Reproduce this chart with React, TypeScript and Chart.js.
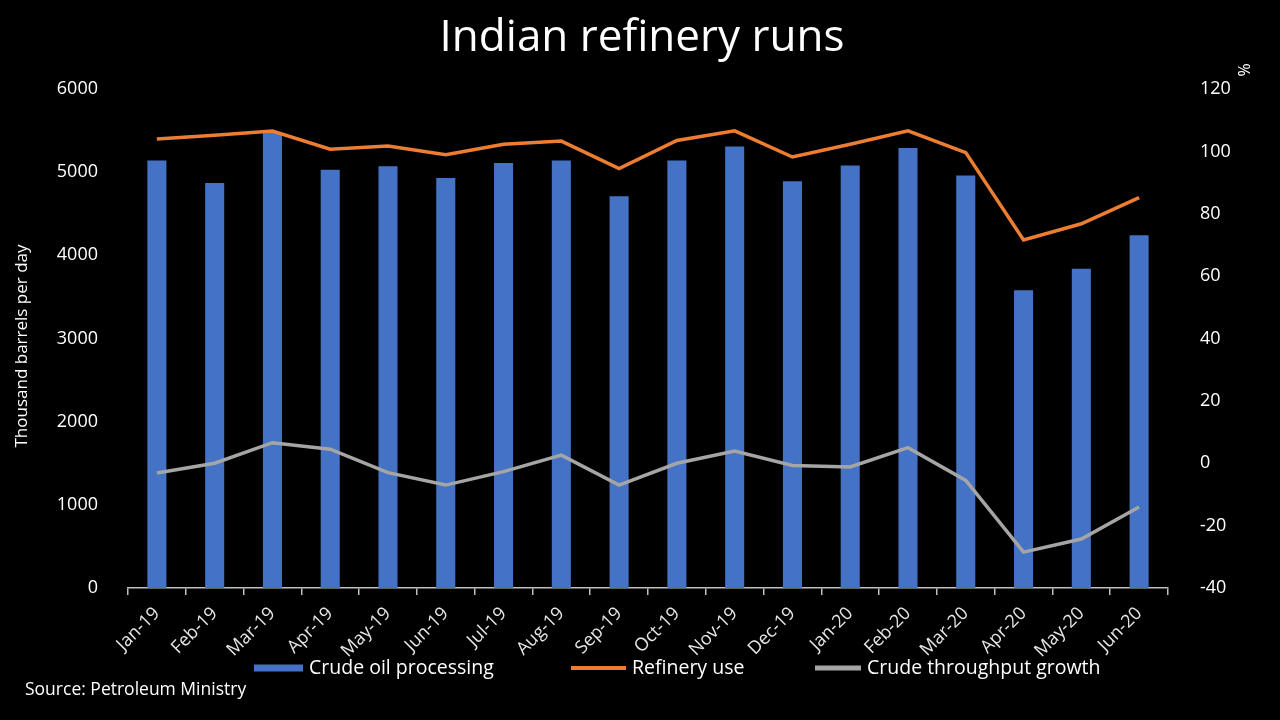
import React, { useEffect, useRef } from "react";
import { Chart, registerables } from "chart.js";

Chart.register(...registerables);

const categories = [
  "Jan-19", "Feb-19", "Mar-19", "Apr-19", "May-19", "Jun-19", "Jul-19", "Aug-19", "Sep-19",
  "Oct-19", "Nov-19", "Dec-19", "Jan-20", "Feb-20", "Mar-20", "Apr-20", "May-20", "Jun-20",
];
const crudeProcessing = [
  5140, 4870, 5470, 5030, 5070, 4930, 5110, 5140, 4710,
  5140, 5310, 4890, 5080, 5290, 4960, 3580, 3840, 4240,
];
const refineryUse = [
  104, 105.2, 106.5, 100.7, 101.7, 98.9, 102.3, 103.3, 94.5,
  103.5, 106.6, 98.2, 102.3, 106.6, 99.6, 71.6, 76.8, 85.2,
];
const throughputGrowth = [
  -3.1, 0, 6.6, 4.5, -3, -7, -2.7, 2.6, -7,
  0, 3.9, -0.7, -1.2, 5, -5.5, -28.5, -24.3, -14,
];
const leftTicks = { min: 0, max: 6000, step: 1000 };
const rightTicks = { min: -40, max: 120, step: 20 };

const FONT = "'Open Sans', Lato, sans-serif";
const BLUE = "#4472C4";
const ORANGE = "#ED7D31";
const GREY = "#A5A5A5";

export default function App() {
  const ref = useRef<HTMLCanvasElement | null>(null);

  useEffect(() => {
    document.body.style.margin = "0";
    document.body.style.background = "#000";
    const canvas = ref.current;
    if (!canvas) return;

    const decor = {
      id: "decor",
      afterDraw(chart: any) {
        const ctx = chart.ctx as CanvasRenderingContext2D;
        ctx.save();
        // Title
        ctx.fillStyle = "#ffffff";
        ctx.font = `44px ${FONT}`;
        ctx.textAlign = "center";
        ctx.textBaseline = "middle";
        ctx.fillText("Indian refinery runs", 642, 38);
        // Left axis title
        ctx.save();
        ctx.translate(22, 346);
        ctx.rotate(-Math.PI / 2);
        ctx.font = `17px ${FONT}`;
        ctx.fillStyle = "#ffffff";
        ctx.fillText("Thousand barrels per day", 0, 0);
        ctx.restore();
        // Right axis unit
        ctx.save();
        ctx.translate(1245, 70);
        ctx.rotate(-Math.PI / 2);
        ctx.font = `16px ${FONT}`;
        ctx.fillStyle = "#ffffff";
        ctx.fillText("%", 0, 0);
        ctx.restore();
        // Legend
        const legendY = 668;
        const items = [
          { label: "Crude oil processing", color: BLUE, x: 254, len: 49, w: 7 },
          { label: "Refinery use", color: ORANGE, x: 571, len: 55, w: 4 },
          { label: "Crude throughput growth", color: GREY, x: 815, len: 46, w: 5 },
        ];
        ctx.font = `19.5px ${FONT}`;
        ctx.textAlign = "left";
        ctx.textBaseline = "middle";
        for (const it of items) {
          ctx.fillStyle = it.color;
          ctx.fillRect(it.x, legendY - it.w / 2, it.len, it.w);
          ctx.fillStyle = "#ffffff";
          ctx.fillText(it.label, it.x + it.len + 6, legendY);
        }
        // Source
        ctx.font = `17.5px ${FONT}`;
        ctx.fillStyle = "#ffffff";
        ctx.fillText("Source: Petroleum Ministry", 25, 690);
        ctx.restore();
      },
    };

    const chart = new Chart(canvas, {
      type: "bar",
      data: {
        labels: categories,
        datasets: [
          {
            type: "line",
            label: "Refinery use",
            data: refineryUse,
            borderColor: ORANGE,
            backgroundColor: ORANGE,
            borderWidth: 3.5,
            pointRadius: 0,
            tension: 0,
            yAxisID: "y1",
            order: 1,
          },
          {
            type: "line",
            label: "Crude throughput growth",
            data: throughputGrowth,
            borderColor: GREY,
            backgroundColor: GREY,
            borderWidth: 3.5,
            pointRadius: 0,
            tension: 0,
            yAxisID: "y1",
            order: 2,
          },
          {
            type: "bar",
            label: "Crude oil processing",
            data: crudeProcessing,
            backgroundColor: BLUE,
            borderWidth: 0,
            categoryPercentage: 1,
            barPercentage: 0.33,
            yAxisID: "y",
            order: 3,
          },
        ],
      },
      options: {
        responsive: false,
        animation: false,
        layout: { padding: { top: 89, bottom: 0, left: 0, right: 0 } },
        plugins: {
          legend: { display: false },
          title: { display: false },
          tooltip: { enabled: false },
        },
        scales: {
          x: {
            offset: true,
            grid: {
              offset: true,
              drawOnChartArea: false,
              drawTicks: true,
              tickLength: 7,
              color: "#bfbfbf",
              lineWidth: 1.5,
            },
            border: { display: true, color: "#bfbfbf", width: 1.5 },
            ticks: {
              color: "#e6e6e6",
              font: { family: FONT, size: 18 },
              minRotation: 45,
              maxRotation: 45,
              autoSkip: false,
              padding: 8,
            },
            afterFit(scale: any) {
              scale.height = 132;
            },
          },
          y: {
            position: "left",
            min: leftTicks.min,
            max: leftTicks.max,
            ticks: {
              stepSize: leftTicks.step,
              color: "#ffffff",
              font: { family: FONT, size: 18 },
              padding: 22,
              callback: (v: any) => String(v),
            },
            grid: { display: false },
            border: { display: false },
            afterFit(scale: any) {
              scale.width = 128;
            },
          },
          y1: {
            position: "right",
            min: rightTicks.min,
            max: rightTicks.max,
            ticks: {
              stepSize: rightTicks.step,
              color: "#ffffff",
              font: { family: FONT, size: 18 },
              padding: 24,
              callback: (v: any) => String(v),
            },
            grid: { display: false },
            border: { display: false },
            afterFit(scale: any) {
              scale.width = 112;
            },
          },
        },
      },
      plugins: [decor],
    } as any);

    return () => chart.destroy();
  }, []);

  return (
    <div style={{ position: "fixed", left: 0, top: 0, width: 1280, height: 720, background: "#000" }}>
      <canvas ref={ref} width={1280} height={720} style={{ display: "block" }} />
    </div>
  );
}
